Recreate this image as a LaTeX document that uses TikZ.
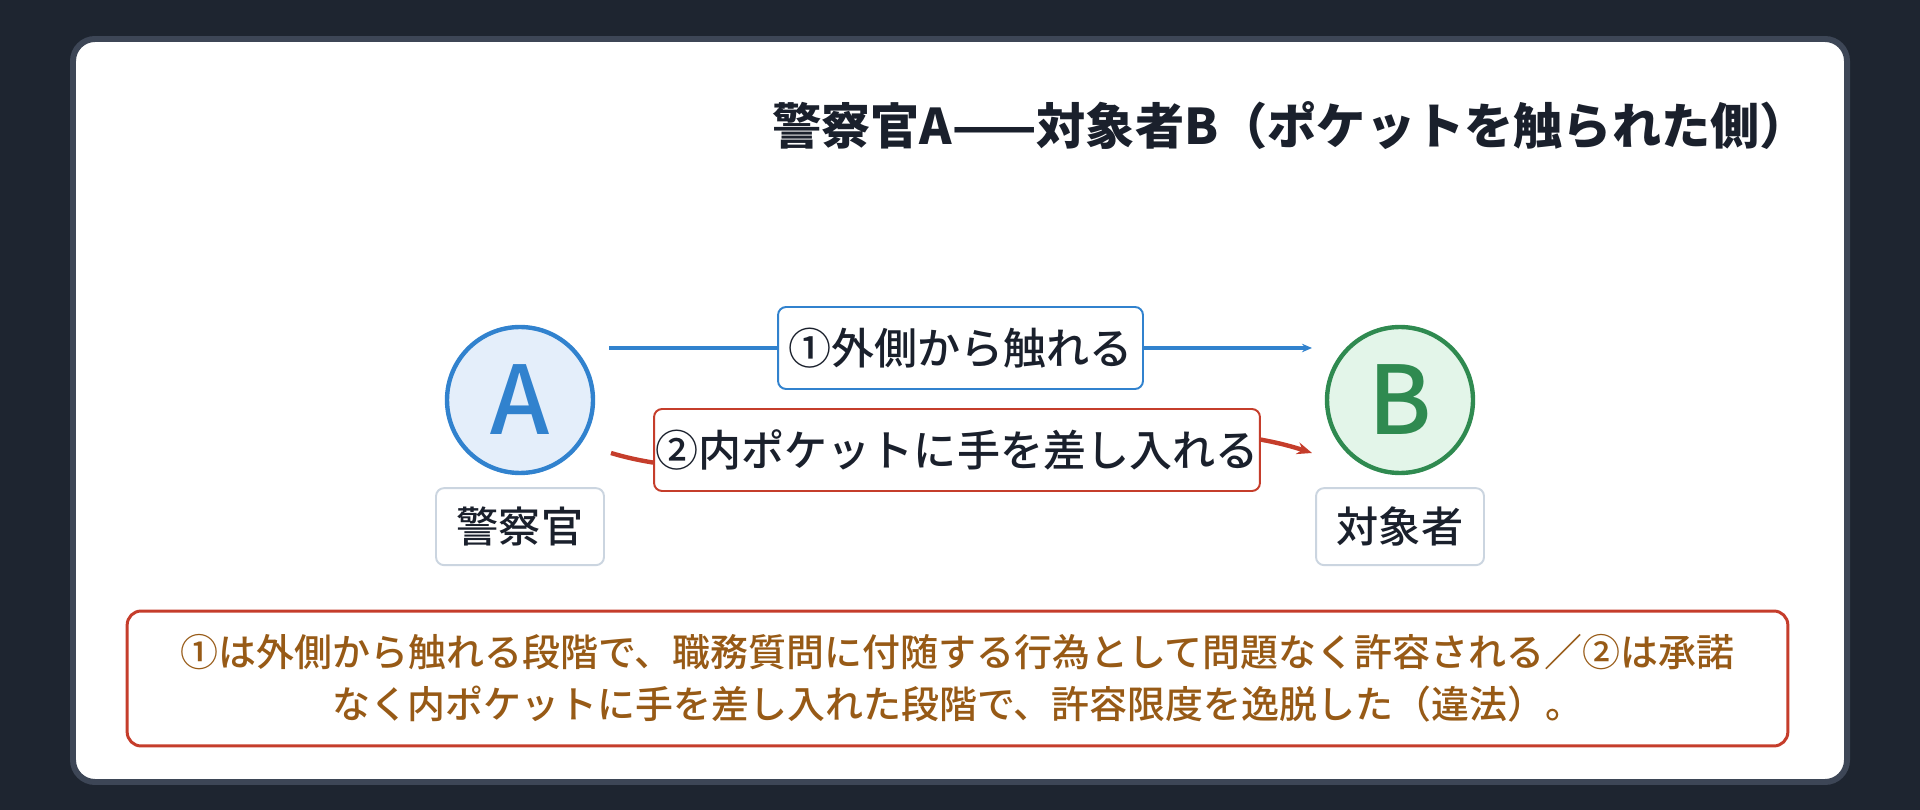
\documentclass[tikz,border=0pt]{standalone}
\usepackage{fontspec}
\setmainfont{Noto Sans CJK JP}
\newfontfamily\medfont{Noto Sans CJK JP Medium}
\usetikzlibrary{positioning, arrows.meta}
\definecolor{darkbg}{HTML}{1E2530}
\definecolor{cardline}{HTML}{3D4656}
\definecolor{inkdark}{HTML}{1A202C}
\definecolor{pblue}{HTML}{3182CE}
\definecolor{pbluebg}{HTML}{E4EEFA}
\definecolor{pgreen}{HTML}{2F8A50}
\definecolor{pgreenbg}{HTML}{E3F5E9}
\definecolor{pred}{HTML}{C53D2B}
\definecolor{taggray}{HTML}{CBD5E0}
\definecolor{notegold}{HTML}{975A16}

\begin{document}
\begin{tikzpicture}[
    x=0.02cm, y=-0.02cm,
    node distance=0.24cm,
    person/.style={
      circle, line width=2.5pt, minimum size=2.92cm, inner sep=0pt,
      font=\medfont\fontsize{54}{54}\selectfont
    },
    tag/.style={
      draw=taggray, fill=white, line width=1.1pt, rounded corners=0.16cm,
      minimum width=3.36cm, minimum height=1.54cm, inner sep=0pt,
      text=inkdark, font=\medfont\fontsize{24}{28}\selectfont
    },
    actbox/.style={
      fill=white, line width=1.1pt, rounded corners=0.16cm,
      minimum height=1.64cm, inner sep=0pt,
      text=inkdark, font=\medfont\fontsize{24.5}{28}\selectfont
    },
    notebox/.style={
      draw=pred, fill=white, line width=1.7pt, rounded corners=0.28cm,
      minimum width=33.22cm, minimum height=2.7cm, align=center,
      text=notegold, font=\medfont\fontsize{21.6}{29.6}\selectfont
    }
  ]
  % background and card
  \fill[darkbg] (0,0) rectangle (1920,810);
  \draw[cardline, fill=white, line width=3.4pt, rounded corners=0.44cm] (73,39) rectangle (1847,782);

  \node[anchor=east, text=inkdark, font=\fontsize{28}{32}\selectfont\bfseries] (title) at (1815,126)
    {警察官A——対象者B（ポケットを触られた側）};

  \node[person, draw=pblue, fill=pbluebg, text=pblue] (a) at (520,400) {A};
  \node[person, draw=pgreen, fill=pgreenbg, text=pgreen] (b) at (1400,400) {B};
  \node[tag, below=of a] (ta) {警察官};
  \node[tag, below=of b] (tb) {対象者};

  % connector ends beside the circles
  \coordinate (a1) at (609,348);
  \coordinate (b1) at (1312,348);
  \coordinate (a2) at (611,453);
  \coordinate (b2) at (1312,453);

  \draw[pblue, line width=1.9pt, -{Stealth[length=0.2cm, width=0.17cm]}]
    (a1) -- node[actbox, draw=pblue, minimum width=7.3cm] (s1) {①外側から触れる} (b1);
  \draw[pred, line width=2.5pt, -{Stealth[length=0.3cm, width=0.24cm]}]
    (a2) .. controls (795,509) and (1116,389) .. node[actbox, draw=pred, minimum width=12.12cm] (s2) {②内ポケットに手を差し入れる} (b2);

  \node[notebox] (note) at (957.5,678.5)
    {①は外側から触れる段階で、職務質問に付随する行為として問題なく許容される／②は承諾\\なく内ポケットに手を差し入れた段階で、許容限度を逸脱した（違法）。};
\end{tikzpicture}
\end{document}
